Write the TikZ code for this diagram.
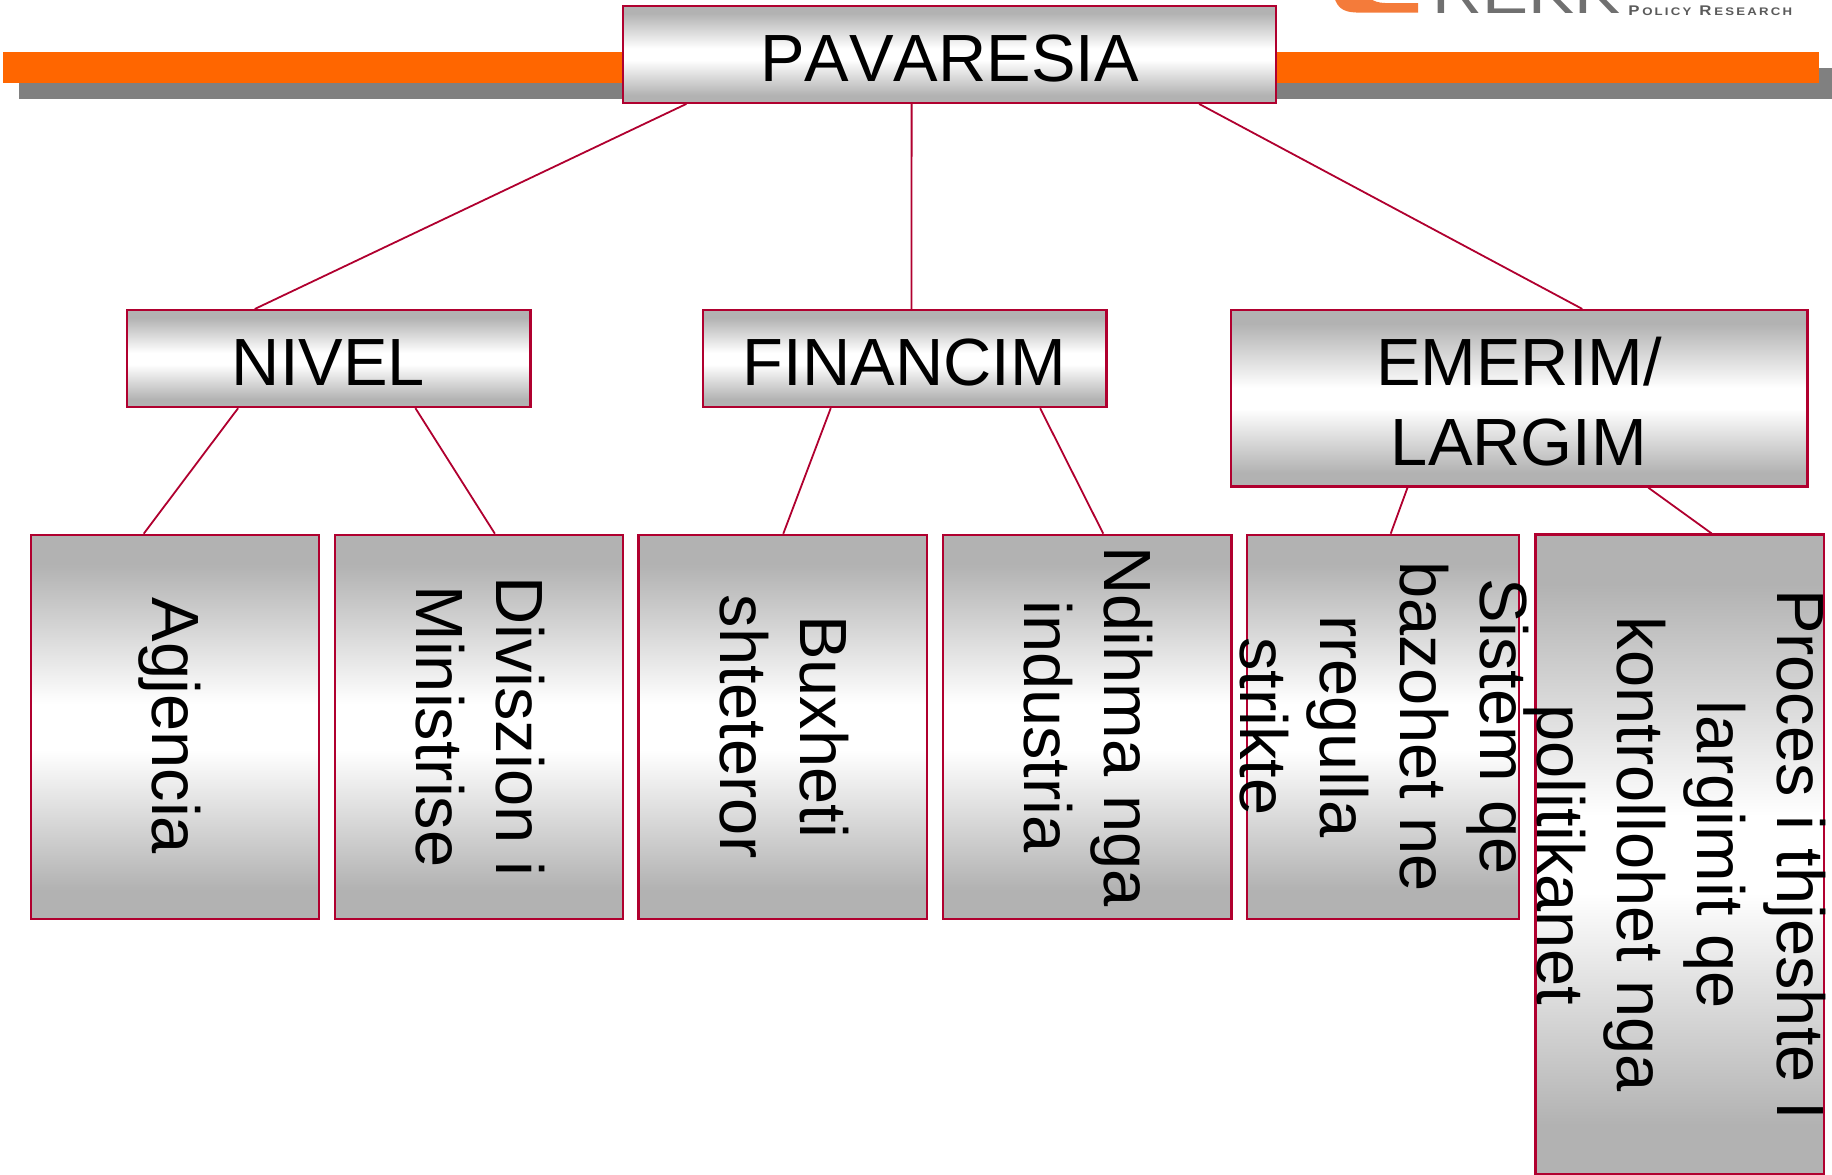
\documentclass[tikz,border=0pt]{standalone}
\usepackage{fontspec}
\setmainfont[Kerning=Off]{Liberation Sans}
\usetikzlibrary{calc}
\definecolor{edgecol}{HTML}{B0002F}
\definecolor{barorange}{HTML}{FF6600}
\definecolor{bargray}{HTML}{808080}
\definecolor{logoorange}{HTML}{F47B3A}
\definecolor{logogray}{HTML}{707070}
\definecolor{taggray}{HTML}{5A5A5A}
\pgfdeclareverticalshading{chrome}{100bp}{color(0bp)=(black!30);color(29bp)=(black!30);color(47bp)=(white);color(53bp)=(white);color(71bp)=(black!30);color(100bp)=(black!30)}
\tikzset{
  chromebox/.style={draw=edgecol,line width=2.2pt,rectangle,shading=chrome,inner sep=0pt,align=center,text=black},
  boxtext/.style={font=\fontsize{66.8}{80}\selectfont,align=center,text=black,inner sep=0pt},
  vtext/.style={boxtext,rotate=-90},
  link/.style={draw=edgecol,line width=1.8pt},
}
\begin{document}
\begin{tikzpicture}[x=1pt,y=-1pt]
\useasboundingbox (0,0) rectangle (1832,1175);
% bars
\fill[bargray] (19,68) rectangle (1832,99);
\fill[barorange] (3,51.5) rectangle (1819,83);
% logo
\begin{scope}
\clip (0,0) rectangle (1832,1175);
\fill[logoorange] (1333,-10) .. controls (1335,8) and (1343,12) .. (1356,12.5) -- (1418,12.5) -- (1418,3) -- (1385,3) .. controls (1372,3) and (1365,-5) .. (1362,-10) -- cycle;
\node[anchor=base west,inner sep=0pt,text=logogray,font=\fontsize{60}{60}\selectfont,xscale=1.15,transform shape] (logoname) at (1432,13) {REKK};
\node[anchor=base west,inner sep=0pt,text=taggray,font=\fontsize{14}{14}\selectfont\bfseries,xscale=1.2,transform shape] (logotag) at (1628,15) {P\,\fontsize{11}{11}\selectfont O\,L\,I\,C\,Y\, \,\fontsize{14}{14}\selectfont R\,\fontsize{11}{11}\selectfont E\,S\,E\,A\,R\,C\,H};
\end{scope}
% boxes
\node[chromebox,minimum width=652.6pt,minimum height=97pt] (top) at (949.6,54.3) {};
\node[chromebox,minimum width=403.6pt,minimum height=97pt] (nivel) at (328.6,358.6) {};
\node[chromebox,minimum width=403.6pt,minimum height=97pt] (fin) at (904.6,358.6) {};
\node[chromebox,minimum width=576.6pt,minimum height=176.5pt] (eme) at (1519.2,398.3) {};
\node[chromebox,minimum width=288.3pt,minimum height=384.4pt] (a1) at (174.8,727) {};
\node[chromebox,minimum width=288.3pt,minimum height=384.4pt] (a2) at (478.9,727) {};
\node[chromebox,minimum width=288.3pt,minimum height=384.4pt] (a3) at (782.7,727) {};
\node[chromebox,minimum width=288.3pt,minimum height=384.4pt] (a4) at (1087.3,727) {};
\node[chromebox,minimum width=272.3pt,minimum height=384.4pt] (a5) at (1383,727) {};
\node[chromebox,minimum width=288.3pt,minimum height=640pt] (a6) at (1679.6,854.5) {};
% labels
\node[boxtext] (ttop) at (949.5,59) {PAVARESIA};
\node[boxtext] (tnivel) at (328.3,362.5) {NIVEL};
\node[boxtext] (tfin) at (904.3,362.5) {FINANCIM};
\node[boxtext] (teme) at (1519,402) {EMERIM/\\LARGIM};
\node[vtext] (ta1) at (169.5,726) {Agjencia};
\node[vtext] (ta2) at (480.5,726.5) {Diviszion i\\Ministrise};
\node[vtext] (ta3) at (784,726.5) {Buxheti\\shteteror};
\node[vtext] (ta4) at (1088,726.5) {Ndihma nga\\industria};
\node[vtext] (ta5) at (1384.5,726.5) {Sistem qe\\bazohet ne\\rregulla\\strikte};
\node[vtext] (ta6) at (1675,854.5) {Proces i thjeshte I\\largimit qe\\kontrollohet nga\\politikanet};
% connectors
\draw[link] ($(top.south west)!.098!(top.south east)$) -- ($(nivel.north west)!.318!(nivel.north east)$);
\draw[link] ($(top.south west)!.442!(top.south east)$) -- ($(fin.north west)!.517!(fin.north east)$);
\draw[link] ($(top.south west)!.881!(top.south east)$) -- ($(eme.north west)!.609!(eme.north east)$);
\draw[link] ($(nivel.south west)!.277!(nivel.south east)$) -- ($(a1.north west)!.393!(a1.north east)$);
\draw[link] ($(nivel.south west)!.714!(nivel.south east)$) -- ($(a2.north west)!.555!(a2.north east)$);
\draw[link] ($(fin.south west)!.318!(fin.south east)$) -- ($(a3.north west)!.502!(a3.north east)$);
\draw[link] ($(fin.south west)!.834!(fin.south east)$) -- ($(a4.north west)!.555!(a4.north east)$);
\draw[link] ($(eme.south west)!.307!(eme.south east)$) -- ($(a5.north west)!.528!(a5.north east)$);
\draw[link] ($(eme.south west)!.723!(eme.south east)$) -- ($(a6.north west)!.61!(a6.north east)$);
\end{tikzpicture}
\end{document}
